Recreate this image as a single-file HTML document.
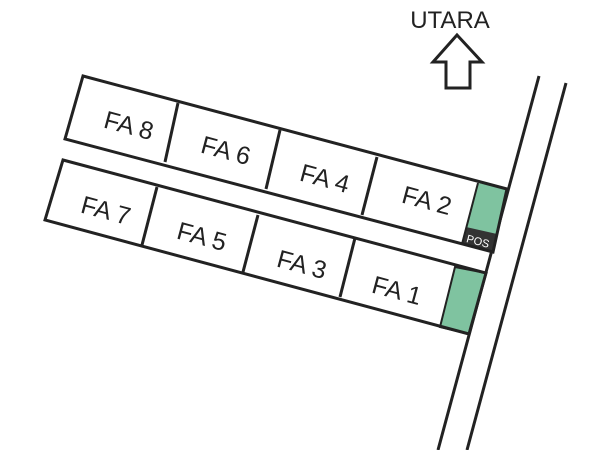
<!DOCTYPE html>
<html><head><style>body{margin:0;background:#fff}svg{display:block}</style></head><body>
<svg width="600" height="450" viewBox="0 0 600 450" xmlns="http://www.w3.org/2000/svg" font-family="Liberation Sans, sans-serif">
<rect width="600" height="450" fill="#fff"/>
<line x1="539" y1="76" x2="438" y2="450" stroke="#222" stroke-width="3"/>
<line x1="566" y1="83" x2="467" y2="450" stroke="#222" stroke-width="3"/>
<polygon points="478,183 507,189 493,252 462,244" fill="#7fc3a0"/>
<polygon points="466,227 497,234 493,252 462,244" fill="#333"/>
<text x="478" y="245" font-size="11" fill="#fff" text-anchor="middle" transform="rotate(15 478 241)">POS</text>
<polygon points="455,267 486,273 469,334 440,327" fill="#7fc3a0" stroke="#222" stroke-width="2"/>
<polygon points="83,76 507,189 493,252 65,139" fill="none" stroke="#222" stroke-width="3"/>
<line x1="178" y1="103" x2="165" y2="162" stroke="#222" stroke-width="3"/>
<line x1="280" y1="130" x2="266" y2="189" stroke="#222" stroke-width="3"/>
<line x1="377" y1="157" x2="362" y2="215" stroke="#222" stroke-width="3"/>
<line x1="478" y1="183" x2="462" y2="244" stroke="#222" stroke-width="2"/>
<polygon points="63,160 486,273 469,334 45,220" fill="none" stroke="#222" stroke-width="3"/>
<line x1="157" y1="187" x2="142" y2="245" stroke="#222" stroke-width="3"/>
<line x1="258" y1="215" x2="243" y2="272" stroke="#222" stroke-width="3"/>
<line x1="355" y1="238" x2="340" y2="297" stroke="#222" stroke-width="3"/>
<g font-size="25" fill="#222" text-anchor="middle">
<text x="129" y="134" transform="rotate(15 129 125)">FA 8</text>
<text x="226" y="159" transform="rotate(15 226 150)">FA 6</text>
<text x="325" y="187" transform="rotate(15 325 178)">FA 4</text>
<text x="427" y="209" transform="rotate(15 427 200)">FA 2</text>
<text x="106" y="219" transform="rotate(15 106 210)">FA 7</text>
<text x="202" y="245" transform="rotate(15 202 236)">FA 5</text>
<text x="302" y="273" transform="rotate(15 302 264)">FA 3</text>
<text x="397" y="299" transform="rotate(15 397 290)">FA 1</text>
</g>
<text x="450" y="28" font-size="24" fill="#222" text-anchor="middle">UTARA</text>
<polygon points="457,35 482,62 470,62 470,88 446,88 446,62 433,62" fill="#fff" stroke="#222" stroke-width="3" stroke-linejoin="miter"/>
</svg>
</body></html>
